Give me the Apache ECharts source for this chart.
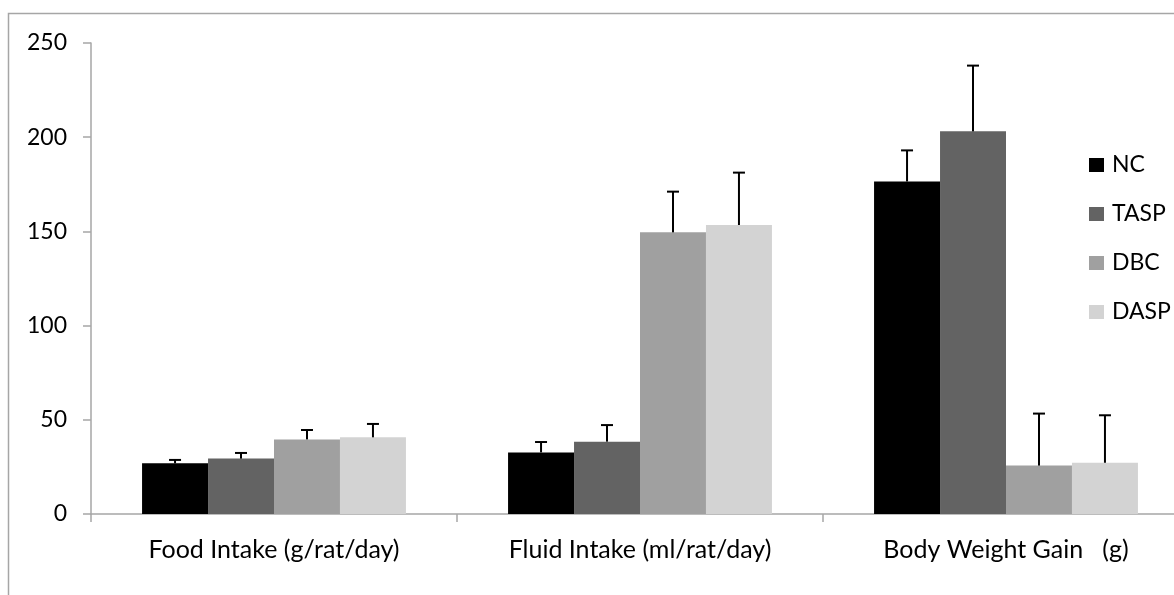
<!DOCTYPE html>
<html>
<head>
<meta charset="utf-8">
<script src="https://cdn.jsdelivr.net/npm/echarts@6/dist/echarts.min.js"></script>
<style>
html,body{margin:0;padding:0;background:#fff;overflow:hidden;width:1174px;height:595px;}
#chart{width:1190px;height:595px;}
</style>
</head>
<body>
<div id="chart"></div>
<script>
const categories = ['Food Intake (g/rat/day)', 'Fluid Intake (ml/rat/day)', 'Body Weight Gain   (g)'];
const seriesNames = ['NC', 'TASP', 'DBC', 'DASP'];
const seriesColors = ['#000000', '#636363', '#a0a0a0', '#d3d3d3'];
const ncValues = [26.9, 32.7, 176.5];
const ncErrors = [1.8, 5.5, 16.5];
const taspValues = [29.4, 38.4, 203.1];
const taspErrors = [3.0, 8.8, 34.9];
const dbcValues = [39.6, 149.5, 25.7];
const dbcErrors = [5.0, 21.6, 27.6];
const daspValues = [40.7, 153.4, 27.2];
const daspErrors = [7.1, 27.8, 25.2];
const yTicks = [0, 50, 100, 150, 200, 250];

const allValues = [ncValues, taspValues, dbcValues, daspValues];
const allErrors = [ncErrors, taspErrors, dbcErrors, daspErrors];

const FONT = 'Lato';
const CAT_GAP = 0.279;
const axisGray = '#a6a6a6';

const chart = echarts.init(document.getElementById('chart'), null, {renderer: 'canvas'});

const barSeries = seriesNames.map((name, i) => ({
  name: name,
  type: 'bar',
  data: allValues[i],
  barGap: '0%',
  barCategoryGap: (CAT_GAP * 100) + '%',
  itemStyle: {color: seriesColors[i]},
  z: 2
}));

const errSeries = seriesNames.map((name, i) => ({
  name: name + ' err',
  type: 'custom',
  data: allValues[i].map((v, k) => [k, v, allErrors[i][k]]),
  encode: {x: 0, y: 1},
  z: 5,
  silent: true,
  renderItem: function (params, api) {
    const cat = api.value(0);
    const mean = api.value(1);
    const sd = api.value(2);
    const band = api.size([1, 0])[0];
    const bw = band * (1 - CAT_GAP) / 4;
    const base = api.coord([cat, mean]);
    const top = api.coord([cat, mean + sd]);
    const x = base[0] + (i - 1.5) * bw;
    const style = {stroke: '#000', lineWidth: 2};
    return {
      type: 'group',
      children: [
        {type: 'line', shape: {x1: x, y1: base[1], x2: x, y2: top[1]}, style: style},
        {type: 'line', shape: {x1: x - 6, y1: top[1], x2: x + 6, y2: top[1]}, style: style}
      ]
    };
  }
}));

const option = {
  backgroundColor: '#ffffff',
  animation: false,
  textStyle: {fontFamily: FONT},
  graphic: [{
    type: 'rect',
    shape: {x: 8.5, y: 13.5, width: 1400, height: 1000},
    style: {fill: 'none', stroke: '#a6a6a6', lineWidth: 1.5},
    z: 0,
    silent: true
  }],
  grid: {left: 91, top: 43, right: 1, bottom: 81, containLabel: false, outerBoundsMode: 'none'},
  legend: {
    data: seriesNames,
    orient: 'vertical',
    left: 1084,
    top: 148,
    icon: 'rect',
    itemWidth: 15,
    itemHeight: 14,
    itemGap: 25,
    textStyle: {fontFamily: FONT, fontSize: 23, color: '#000', lineHeight: 24, padding: [0, 0, 0, 3]}
  },
  xAxis: {
    type: 'category',
    data: categories,
    boundaryGap: true,
    axisLine: {lineStyle: {color: axisGray, width: 1.5}},
    axisTick: {show: true, length: 8, lineStyle: {color: axisGray, width: 1.5}},
    axisLabel: {fontFamily: FONT, fontSize: 25, color: '#000', margin: 23, interval: 0}
  },
  yAxis: {
    type: 'value',
    min: yTicks[0],
    max: yTicks[yTicks.length - 1],
    interval: yTicks[1] - yTicks[0],
    splitLine: {show: false},
    axisLine: {show: true, lineStyle: {color: axisGray, width: 1.5}},
    axisTick: {show: true, length: 8, lineStyle: {color: axisGray, width: 1.5}},
    axisLabel: {fontFamily: FONT, fontSize: 23, color: '#000', margin: 24}
  },
  series: barSeries.concat(errSeries)
};

chart.setOption(option);
</script>
</body>
</html>
